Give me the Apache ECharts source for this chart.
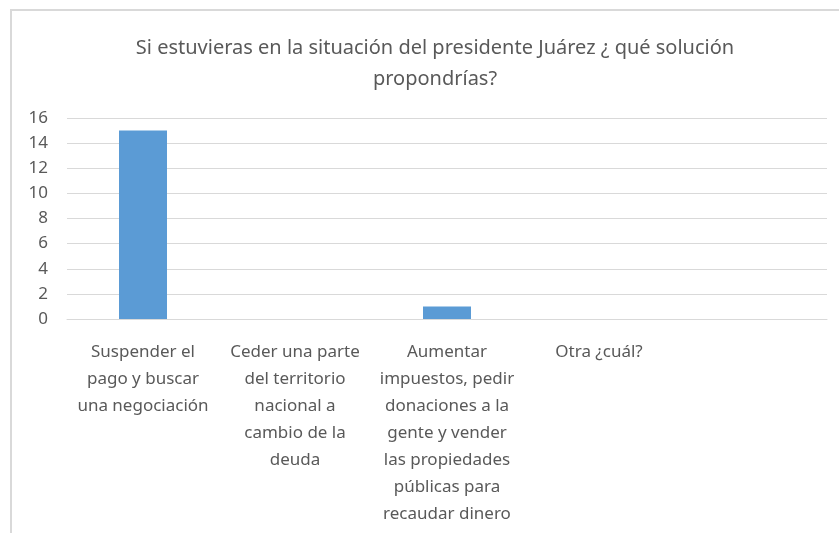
<!DOCTYPE html>
<html>
<head>
<meta charset="utf-8">
<script src="https://cdn.jsdelivr.net/npm/echarts@6/dist/echarts.min.js"></script>
<style>
  html, body { margin: 0; padding: 0; background: #fff; }
  #chart { width: 839px; height: 533px; }
</style>
</head>
<body>
<div id="chart"></div>
<script>
// data
const categories = [
  'Suspender el\npago y buscar\nuna negociación',
  'Ceder una parte\ndel territorio\nnacional a\ncambio de la\ndeuda',
  'Aumentar\nimpuestos, pedir\ndonaciones a la\ngente y vender\nlas propiedades\npúblicas para\nrecaudar dinero',
  'Otra ¿cuál?',
  ''
]
const values = [15, 0, 1, 0, 0]
const yTicks = { min: 0, max: 16, interval: 2 }

const font = '"Noto Sans", sans-serif'
const grey = '#595959'

const chart = echarts.init(document.getElementById('chart'))
chart.setOption({
  animation: false,
  title: {
    text: 'Si estuvieras en la situación del presidente Juárez ¿ qué solución\npropondrías?',
    left: 430,
    top: 28,
    textAlign: 'center',
    textStyle: { fontFamily: font, fontSize: 20, fontWeight: 'normal', color: grey, lineHeight: 31 }
  },
  graphic: [
    { type: 'line', shape: { x1: 10, y1: 10, x2: 839, y2: 10 }, style: { stroke: '#D9D9D9', lineWidth: 2 } },
    { type: 'line', shape: { x1: 11, y1: 9, x2: 11, y2: 533 }, style: { stroke: '#D9D9D9', lineWidth: 2 } }
  ],
  grid: { left: 67, right: 12, top: 118, bottom: 214 },
  xAxis: {
    type: 'category',
    data: categories,
    axisLine: { lineStyle: { color: '#D9D9D9' } },
    axisTick: { show: false },
    axisLabel: {
      interval: 0,
      margin: 20,
      fontFamily: font,
      fontSize: 17,
      color: grey,
      lineHeight: 27,
      align: 'center',
      verticalAlign: 'top'
    }
  },
  yAxis: {
    type: 'value',
    min: yTicks.min,
    max: yTicks.max,
    interval: yTicks.interval,
    axisLine: { show: false },
    axisTick: { show: false },
    splitLine: { lineStyle: { color: '#D9D9D9' } },
    axisLabel: { margin: 19, fontFamily: font, fontSize: 17, color: grey }
  },
  series: [{
    type: 'bar',
    data: values,
    barWidth: 48,
    itemStyle: { color: '#5B9BD5' }
  }]
})
</script>
</body>
</html>
